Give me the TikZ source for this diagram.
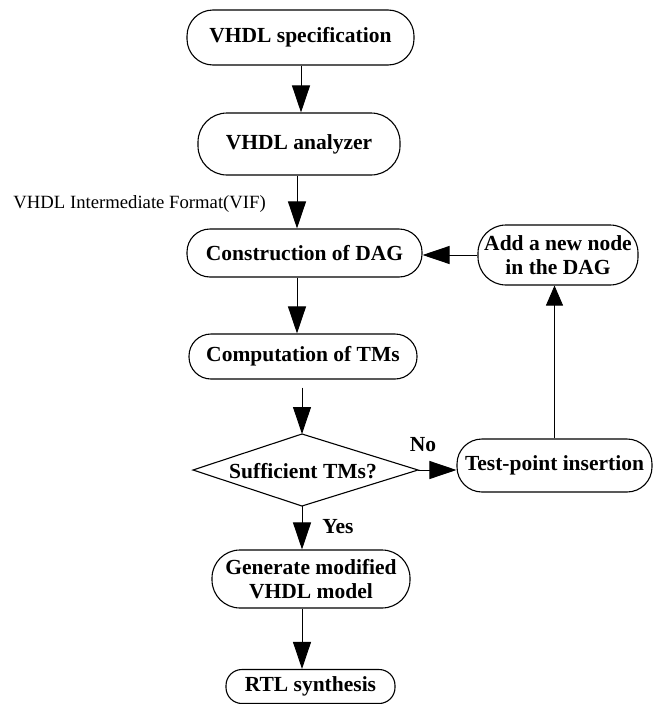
\documentclass[tikz,border=0pt]{standalone}
\usepackage{fontspec}
\setmainfont{Liberation Serif}
\usetikzlibrary{arrows.meta,calc}
\begin{document}
\begin{tikzpicture}[x=1pt,y=-1pt,
  rbox/.style={draw, line width=1.1pt, rounded corners=#1, inner sep=0pt, align=center,
    font=\bfseries\fontsize{21.5}{23.5}\selectfont},
  arr/.style={line width=0.9pt, -{Triangle[width=18pt,length=27pt]}},
  lbl/.style={font=\bfseries\fontsize{21.5}{23.5}\selectfont, inner sep=0pt}]
\useasboundingbox (0,0) rectangle (655,704);
\node[rbox=26pt, minimum width=227pt, minimum height=55pt] (spec) at (300.5,37.5) {VHDL specification};
\node[rbox=29pt, minimum width=202pt, minimum height=62pt] (ana) at (299,144) {VHDL analyzer};
\node[rbox=23pt, minimum width=235pt, minimum height=48pt] (cons) at (304.5,253) {Construction of DAG};
\node[rbox=28pt, minimum width=160pt, minimum height=60pt] (add) at (558,255) {Add a new node\\in the DAG};
\node[rbox=22pt, minimum width=228pt, minimum height=45pt] (comp) at (303,356.5) {Computation of TMs};
\node[lbl] (dec) at (303,471) {Sufficient TMs?};
\coordinate (dtop) at (302,434);
\coordinate (dleft) at (193,470);
\coordinate (dright) at (418,470);
\coordinate (dbot) at (302,506);
\draw[line width=1.1pt, line join=miter] (dtop) -- (dright) -- (dbot) -- (dleft) -- cycle;
\node[rbox=25pt, minimum width=195pt, minimum height=53pt] (test) at (554.5,465.5) {Test-point insertion};
\node[rbox=28pt, minimum width=198pt, minimum height=58pt] (gen) at (311,579) {Generate modified\\VHDL model};
\node[rbox=16pt, minimum width=169pt, minimum height=34pt] (rtl) at (310.5,686.5) {RTL synthesis};
\node[anchor=east, inner sep=0pt, font=\fontsize{18.7}{21}\selectfont] (vif) at (266,204) {VHDL Intermediate Format(VIF)};
\node[lbl] (no) at (423,445) {No};
\node[lbl] (yes) at (338,527) {Yes};
\coordinate (c1) at (301,0);
\coordinate (c2) at (297,0);
\coordinate (c3) at (302,0);
\draw[arr] (spec.south -| c1) -- (ana.north -| c1);
\draw[arr] (ana.south -| c2) -- (cons.north -| c2);
\draw[arr] (cons.south -| c2) -- (comp.north -| c2);
\draw[arr, shorten <=8pt] (comp.south -| c3) -- (dtop);
\draw[arr] (dbot) -- (gen.north -| dbot);
\draw[arr] (gen.south -| c3) -- (rtl.north -| c3);
\draw[arr] (add.west) -- (add.west -| cons.east);
\draw[arr] (dright) -- (dright -| test.west);
\draw[line width=0.9pt, -{Triangle[width=17pt,length=20pt]}] (test.north) -- (test.north |- add.south);
\end{tikzpicture}
\end{document}
